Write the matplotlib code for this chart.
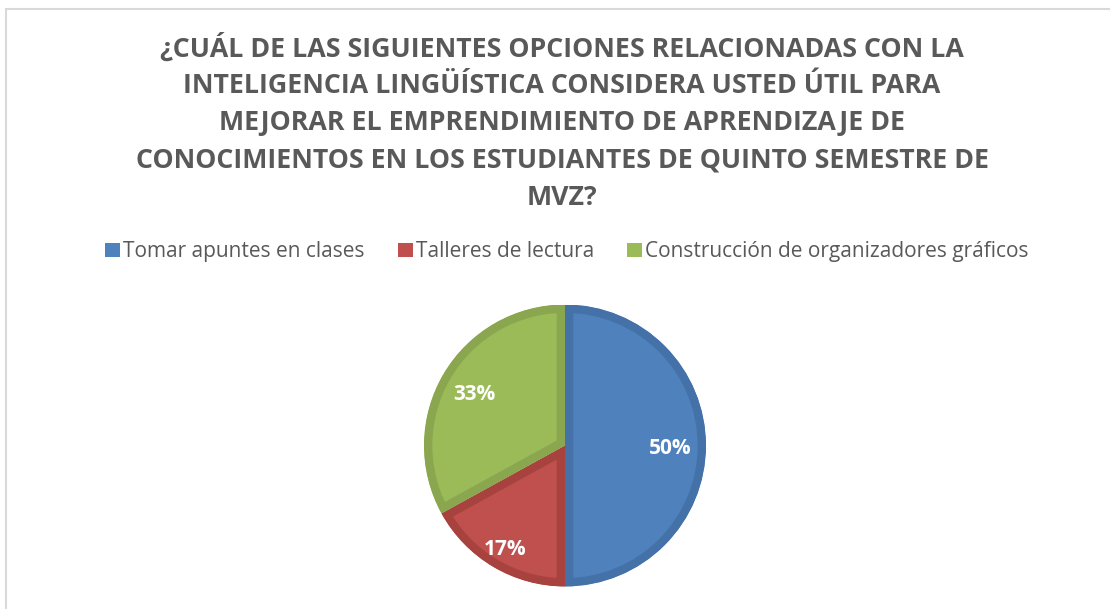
import numpy as np
import matplotlib.pyplot as plt
from matplotlib.patches import Patch

# data
labels = ['Tomar apuntes en clases', 'Talleres de lectura', 'Construcción de organizadores gráficos']
shares = [50, 17, 33]
fill_colors = ['#4F81BD', '#C0504D', '#9BBB59']
edge_colors = ['#4472A8', '#A8423F', '#8AA64E']
title_lines = [
    '¿CUÁL DE LAS SIGUIENTES OPCIONES RELACIONADAS CON LA',
    'INTELIGENCIA LINGÜÍSTICA CONSIDERA USTED ÚTIL PARA',
    'MEJORAR EL EMPRENDIMIENTO DE APRENDIZAJE DE',
    'CONOCIMIENTOS EN LOS ESTUDIANTES DE QUINTO SEMESTRE DE',
    'MVZ?',
]

plt.rcParams['font.family'] = ['Open Sans', 'DejaVu Sans']
gray = '#595959'

fig = plt.figure(figsize=(11.1, 6.09), dpi=100)

# chart frame
fig.add_artist(plt.Rectangle((6 / 1110, -0.05), 1.2, (609 - 9) / 609 + 0.05,
                             transform=fig.transFigure, fill=False,
                             edgecolor='#D9D9D9', linewidth=1.5))

# title
y_title = 1 - 48.5 / 609
for i, line in enumerate(title_lines):
    fig.text(562 / 1110, y_title - i * 37.3 / 609, line, ha='center', va='center',
             fontsize=19.3, fontweight='bold', color=gray)

# pie
cx, cy, r = 565, 445.5, 141
ax = fig.add_axes([(cx - r) / 1110, (609 - cy - r) / 609, 2 * r / 1110, 2 * r / 609])
wedges, _ = ax.pie(shares, colors=fill_colors, startangle=90, counterclock=False, radius=1)
for w, ec in zip(wedges, edge_colors):
    w.set_edgecolor(ec)
    w.set_linewidth(12)
    w.set_clip_on(True)
    w.set_clip_path(w)
ax.set_xlim(-1, 1)
ax.set_ylim(-1, 1)
ax.set_aspect('equal')

dists = [0.745, 0.83, 0.75]
for w, s, d in zip(wedges, shares, dists):
    ang = np.deg2rad((w.theta1 + w.theta2) / 2)
    ax.text(d * np.cos(ang), d * np.sin(ang) - 0.02, f'{s}%', ha='center', va='center',
            color='white', fontsize=15, fontweight='bold')

# legend
handles = [Patch(facecolor=c, edgecolor='none') for c in fill_colors]
fig.legend(handles, labels, loc='center', bbox_to_anchor=(567 / 1110, 1 - 252 / 609), ncol=3,
           frameon=False, fontsize=15, labelcolor=gray, handlelength=0.7, handleheight=0.7,
           handletextpad=0.15, columnspacing=1.6)

fig.savefig('out.png', dpi=100)
